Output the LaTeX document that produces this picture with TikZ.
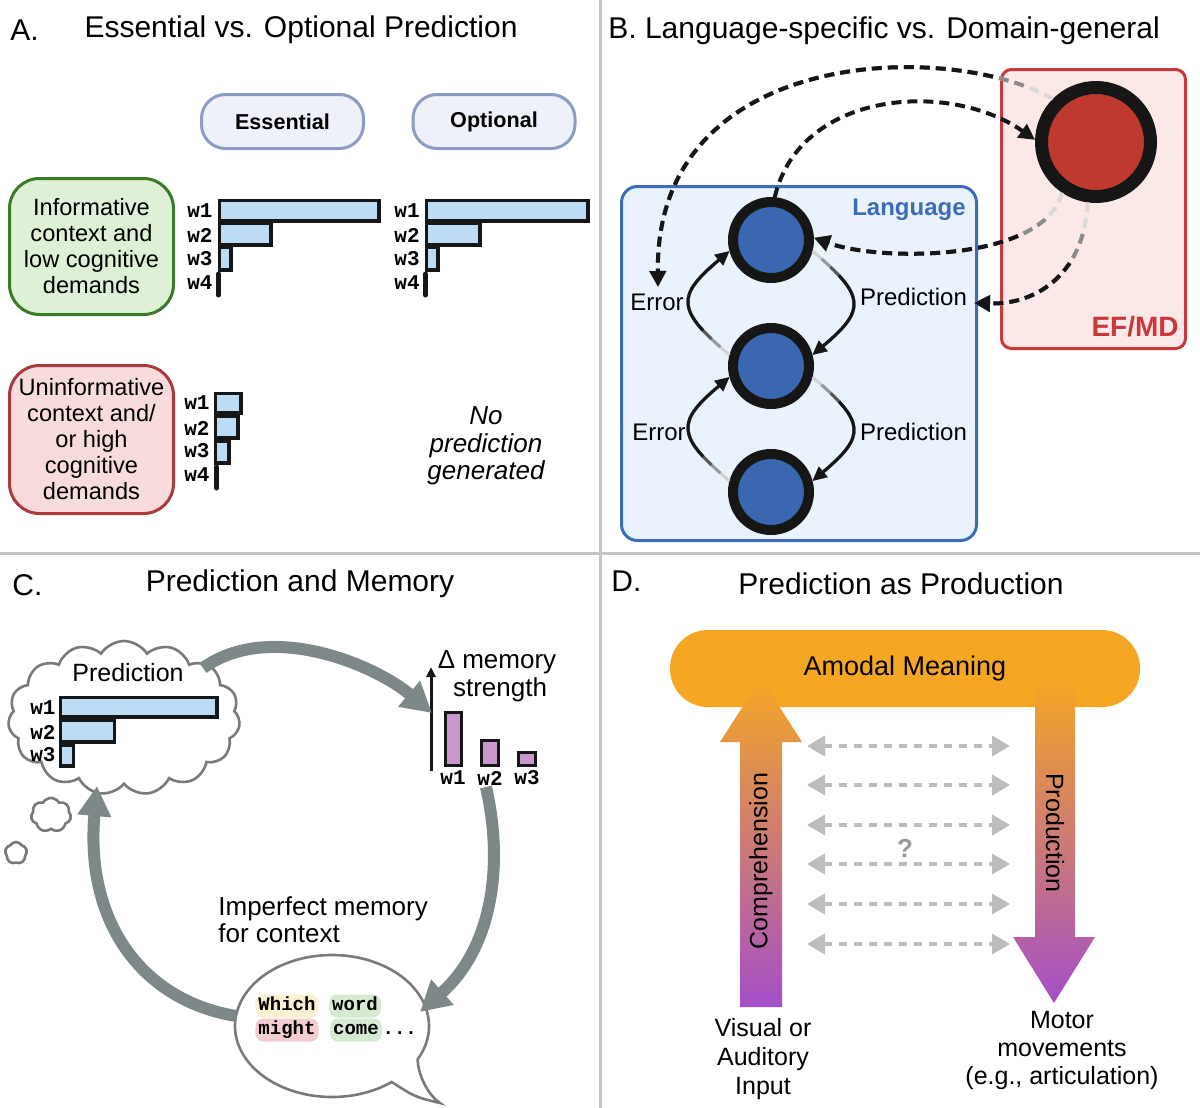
\documentclass[tikz,border=0pt]{standalone}
\usepackage{fontspec}
\setmainfont{Liberation Sans}
\setmonofont{Liberation Mono}
\usetikzlibrary{arrows.meta,shapes.symbols,calc}

\definecolor{divgray}{HTML}{C4C4C4}
\definecolor{essfill}{HTML}{EEF1FA}
\definecolor{essdraw}{HTML}{8D9BC5}
\definecolor{grnfill}{HTML}{DEF0D6}
\definecolor{grndraw}{HTML}{3B7A27}
\definecolor{rdfill}{HTML}{F8DCDC}
\definecolor{rddraw}{HTML}{A93B3E}
\definecolor{barblue}{HTML}{BCDCF5}
\definecolor{effill}{HTML}{FDE8E8}
\definecolor{efdraw}{HTML}{C9383A}
\definecolor{efcirc}{HTML}{C0392F}
\definecolor{langfill}{HTML}{EAF2FB}
\definecolor{langdraw}{HTML}{3C6DB6}
\definecolor{langcirc}{HTML}{3A67B0}
\definecolor{ringblack}{HTML}{161616}
\definecolor{arrgray}{HTML}{7F8888}
\definecolor{cloudgray}{HTML}{7A7A7A}
\definecolor{memfill}{HTML}{C898CD}
\definecolor{mbar}{HTML}{F5A623}
\definecolor{mpurple}{HTML}{A44FC8}
\definecolor{qgray}{HTML}{BDBDBD}
\definecolor{qmark}{HTML}{9A9A9A}
\definecolor{hlyel}{HTML}{FAF0D2}
\definecolor{hlgrn}{HTML}{D5EAD0}
\definecolor{hlred}{HTML}{F3CDD0}

\def\dashseq{}
\foreach \i in {1,...,50}{\xdef\dashseq{\dashseq on 5pt off 3pt}}
\edef\mkdashstyles{\noexpand\tikzset{
  dashA/.style={dash pattern=on 5pt off 3pt},
  dashB/.style={dash pattern=on 0pt off 16pt\dashseq},
  dashC/.style={dash pattern=on 0pt off 32pt\dashseq}}}
\mkdashstyles

\tikzset{
  divider/.style={draw=divgray, line width=1.5pt},
  ttl/.style={font=\fontsize{15}{18}\selectfont, inner sep=0pt},
  hdr/.style={draw=essdraw, fill=essfill, line width=1.5pt, rounded corners=12pt,
    minimum width=81pt, minimum height=27pt, inner sep=0pt,
    font=\bfseries\fontsize{10.8}{13}\selectfont},
  cond/.style={line width=1.5pt, rounded corners=15pt, align=center, inner sep=0pt,
    font=\fontsize{11.8}{13}\selectfont},
  barsty/.style={fill=barblue, draw=ringblack, line width=1.9pt},
  wl/.style={font=\ttfamily\bfseries\fontsize{10.5}{12}\selectfont, inner sep=0pt},
  lcirc/.style={circle, fill=langcirc, draw=ringblack, line width=5pt, minimum size=38pt, inner sep=0pt},
  solidarc/.style={line width=1.5pt, -{Triangle[length=7pt,width=6.5pt]}},
  dashblk/.style={line width=2pt, draw=ringblack, dashA, -{Triangle[length=8pt,width=8pt]}},
  lbl/.style={font=\fontsize{12}{14}\selectfont, inner sep=0pt},
  cloudsty/.style={cloud, cloud ignores aspect, draw=cloudgray, line width=1.3pt, fill=white, inner sep=0pt},
  bigarr/.style={draw=arrgray, line width=6pt, -{Triangle[length=15pt,width=16pt]}},
  memsty/.style={fill=memfill, draw=ringblack, line width=1.5pt},
  hl/.style={font=\ttfamily\bfseries\fontsize{9.5}{11}\selectfont, rounded corners=4pt, inner xsep=1.5pt,
    inner ysep=1.5pt, text height=6.5pt, text depth=2pt},
  qarr/.style={draw=qgray, line width=2pt, dash pattern=on 4pt off 3.5pt,
    {Triangle[length=9pt,width=10pt]}-{Triangle[length=9pt,width=10pt]}},
  body/.style={font=\fontsize{12.5}{14}\selectfont, inner sep=0pt}
}

\newcommand\fadearc[1]{%
  \draw[solidarc, draw=black!18] #1;
  \draw[solidarc, draw=black!40, dash pattern=on 0pt off 6pt on 500pt] #1;
  \draw[solidarc, draw=black!65, dash pattern=on 0pt off 12pt on 500pt] #1;
  \draw[solidarc, draw=ringblack, dash pattern=on 0pt off 18pt on 500pt] #1;}
\newcommand\fadedash[1]{%
  \draw[dashblk, draw=black!15, dashA] #1;
  \draw[dashblk, draw=black!45, dashB] #1;
  \draw[dashblk, draw=ringblack, dashC] #1;}
\newcommand\mybar[4]{\draw[barsty] (#1,#2) rectangle (#3,#4);}

\begin{document}
\begin{tikzpicture}[x=0.5pt,y=0.5pt]
\useasboundingbox (0,0) rectangle (1200,-1108);
\fill[white] (0,0) rectangle (1200,-1108);
\draw[divider] (600,0) -- (600,-1108);
\draw[divider] (0,-553) -- (1200,-553);

% ---------------- Panel A ----------------
\node[ttl, anchor=west] (atag) at (10,-30) {A.};
\node[ttl] (atitle) at (301,-30) {Essential vs. Optional Prediction};
\node[hdr] (ess) at (282.5,-121.5) {Essential};
\node[hdr] (opt) at (494,-121.5) {Optional};
\node[cond, fill=grnfill, draw=grndraw, minimum width=82pt, minimum height=68pt] (inf)
  at (91.5,-246.5) {Informative\\context and\\low cognitive\\demands};
\node[cond, fill=rdfill, draw=rddraw, minimum width=82pt, minimum height=74pt] (uninf)
  at (91.5,-439.5) {Uninformative\\context and/\\or high\\cognitive\\demands};

% essential bars
\mybar{219.5}{-200.5}{379}{-221}
\mybar{219.5}{-223.5}{271}{-245}
\mybar{219.5}{-247.5}{231}{-270}
\draw[line width=2.5pt, draw=ringblack, line cap=round] (218.5,-274) -- (218.5,-295);
\node[wl, anchor=east] (ea1) at (213,-211) {w1};
\node[wl, anchor=east] (ea2) at (213,-235) {w2};
\node[wl, anchor=east] (ea3) at (213,-259) {w3};
\node[wl, anchor=east] (ea4) at (213,-283) {w4};
% optional bars
\mybar{426.5}{-200.5}{588}{-221}
\mybar{426.5}{-223.5}{480}{-245}
\mybar{426.5}{-247.5}{438}{-270}
\draw[line width=2.5pt, draw=ringblack, line cap=round] (425.5,-274) -- (425.5,-295);
\node[wl, anchor=east] (oa1) at (420,-211) {w1};
\node[wl, anchor=east] (oa2) at (420,-235) {w2};
\node[wl, anchor=east] (oa3) at (420,-259) {w3};
\node[wl, anchor=east] (oa4) at (420,-283) {w4};
% uninformative bars
\mybar{215.5}{-393.5}{241}{-413}
\mybar{215.5}{-416.5}{238}{-438}
\mybar{215.5}{-441.5}{229}{-463}
\draw[line width=2.5pt, draw=ringblack, line cap=round] (216.5,-467) -- (216.5,-488);
\node[wl, anchor=east] (ua1) at (210,-403) {w1};
\node[wl, anchor=east] (ua2) at (210,-428) {w2};
\node[wl, anchor=east] (ua3) at (210,-451) {w3};
\node[wl, anchor=east] (ua4) at (210,-475) {w4};
\node[font=\itshape\fontsize{13}{13.8}\selectfont, align=center, inner sep=0pt] (nopred)
  at (486,-446) {No\\prediction\\generated};

% ---------------- Panel B ----------------
\node[ttl, anchor=west] (btitle) at (608,-31) {B. Language-specific vs. Domain-general};
\node[draw=efdraw, fill=effill, line width=1.5pt, rounded corners=5pt, minimum width=92pt,
  minimum height=139.5pt, inner sep=0pt] (efbox) at (1093.5,-209) {};
\node[font=\bfseries\fontsize{14}{16}\selectfont, text=efdraw, anchor=east, inner sep=0pt]
  (eflabel) at (1179,-327) {EF/MD};
\node[draw=langdraw, fill=langfill, line width=1.5pt, rounded corners=8pt, minimum width=177.5pt,
  minimum height=177pt, inner sep=0pt] (langbox) at (799,-363.5) {};
\node[font=\bfseries\fontsize{12}{14}\selectfont, text=langdraw, anchor=east, inner sep=0pt]
  (langlabel) at (966,-210) {Language};
\node[circle, fill=efcirc, draw=ringblack, line width=6.5pt, minimum size=54.5pt, inner sep=0pt]
  (ef) at (1096,-142) {};
\node[lcirc] (t) at (771,-240) {};
\node[lcirc] (m) at (771,-366) {};
\node[lcirc] (b) at (771,-492) {};

\node[lbl] (err1) at (657,-302) {Error};
\node[lbl] (err2) at (659,-432) {Error};
\node[lbl] (pr1) at (913.5,-297) {Prediction};
\node[lbl] (pr2) at (913.5,-432) {Prediction};

\fadearc{(m.165) .. controls (675.9,-309.9) and (675.9,-296.1) .. (t.195)}
\fadearc{(b.165) .. controls (675.9,-435.9) and (675.9,-422.1) .. (m.195)}
\fadearc{(t.-15) .. controls (866.1,-296.1) and (866.1,-309.9) .. (m.15)}
\fadearc{(m.-15) .. controls (866.1,-422.1) and (866.1,-435.9) .. (b.15)}

\coordinate (errtip) at (658,-287);
\coordinate (prtip) at (974,-303);
\fadedash{(ef.135) .. controls (950,-40) and (655,-45) .. (errtip)}
\draw[dashblk] (t.85) .. controls (800,-90) and (950,-80) .. (ef.178);
\fadedash{(ef.236) .. controls (1045,-262) and (880,-262) .. (t.3)}
\fadedash{(ef.262) .. controls (1085,-270) and (1040,-305) .. (prtip)}

% ---------------- Panel C ----------------
\node[ttl, anchor=west] (ctag) at (12,-585) {C.};
\node[ttl] (ctitle) at (300,-584) {Prediction and Memory};

\node[cloudsty, cloud puffs=15, cloud puff arc=115, minimum width=116pt, minimum height=77pt]
  (cloud) at (124,-718) {};
\node[cloudsty, cloud puffs=7, cloud puff arc=120, minimum width=20pt, minimum height=17pt]
  (sc1) at (51,-815) {};
\node[cloudsty, cloud puffs=5, cloud puff arc=120, minimum width=11pt, minimum height=11pt]
  (sc2) at (16,-853) {};
\node[font=\fontsize{12.5}{14}\selectfont, inner sep=0pt] (predlbl) at (128,-673) {Prediction};
\mybar{60.5}{-697.5}{217}{-717}
\mybar{60.5}{-720.5}{114.5}{-742}
\mybar{60.5}{-745.5}{73.5}{-766}
\node[wl, anchor=east] (ca1) at (56,-708) {w1};
\node[wl, anchor=east] (ca2) at (56,-732) {w2};
\node[wl, anchor=east] (ca3) at (56,-755) {w3};

% memory chart
\coordinate (axb) at (431,-771);
\coordinate (axt) at (431,-667);
\draw[line width=1.5pt, draw=ringblack, -{Triangle[length=5pt,width=4.5pt]}] (axb) -- (axt);
\draw[memsty] (445,-712) rectangle (461,-765);
\draw[memsty] (481,-740) rectangle (498,-765);
\draw[memsty] (518,-752) rectangle (535,-765);
\node[wl] (ma1) at (453,-778) {w1};
\node[wl] (ma2) at (490,-778) {w2};
\node[wl] (ma3) at (527,-778) {w3};
\node[font=\fontsize{13}{14}\selectfont, inner sep=0pt] (dmem) at (497,-662) {Δ memory};
\node[font=\fontsize{13}{14}\selectfont, inner sep=0pt] (dstr) at (500,-690) {strength};

\node[font=\fontsize{13}{13.5}\selectfont, align=left, anchor=west, inner sep=0pt] (imperf)
  at (218,-920) {Imperfect memory\\for context};

% speech bubble
\draw[draw=cloudgray, line width=1.3pt, fill=white]
  ({332+97*cos(-28)},{-1026+71*sin(-28)})
  arc[start angle=-28, end angle=308, x radius=97, y radius=71]
  .. controls (415,-1097) .. (440,-1103)
  .. controls (428,-1095) and (418,-1075) .. ({332+97*cos(-28)},{-1026+71*sin(-28)}) -- cycle;
\node[hl, fill=hlyel] (wWhich) at (287,-1006) {Which};
\node[hl, fill=hlgrn] (wWord) at (355,-1006) {word};
\node[hl, fill=hlred] (wMight) at (287,-1030) {might};
\node[hl, fill=hlgrn] (wCome) at (356,-1030) {come};
\node[font=\ttfamily\bfseries\fontsize{9.5}{11}\selectfont, anchor=base west, inner sep=0pt] (dots)
  at (wCome.base east) {...};

% big gray arrows
\coordinate (c1s) at (203,-668);
\coordinate (memtip) at (432,-713);
\coordinate (c2s) at (486,-787);
\coordinate (c2e) at (420,-1012);
\coordinate (c3s) at (236,-1016);
\coordinate (c3e) at (97,-786);
\draw[bigarr] (c1s) .. controls (270,-620) and (375,-665) .. (memtip);
\draw[bigarr] (c2s) .. controls (505,-870) and (490,-950) .. (c2e);
\draw[bigarr] (c3s) .. controls (140,-1000) and (85,-920) .. (c3e);

% ---------------- Panel D ----------------
\node[ttl, anchor=west] (dtag) at (611,-581) {D.};
\node[ttl] (dtitle) at (901,-584) {Prediction as Production};
\node[fill=mbar, rounded corners=19pt, minimum width=235pt, minimum height=38.5pt, inner sep=0pt,
  font=\fontsize{13.5}{15}\selectfont] (meaning) at (905,-668.5) {Amodal Meaning};
\shade[top color=mbar, bottom color=mpurple] (740,-1007) -- (782,-1007) -- (782,-742) -- (802,-742)
  -- (761,-678) -- (720,-742) -- (740,-742) -- cycle;
\shade[top color=mbar, bottom color=mpurple] (1035,-680) -- (1075,-680) -- (1075,-937) -- (1095,-937)
  -- (1054,-1003) -- (1013,-937) -- (1035,-937) -- cycle;
\node[body, rotate=90] (comp) at (761,-861) {Comprehension};
\node[body, rotate=-90] (prod) at (1055,-833) {Production};
\foreach \yy [count=\i] in {746,785,825,864,904,944} {
  \coordinate (ql\i) at (807,-\yy);
  \coordinate (qr\i) at (1010,-\yy);
  \draw[qarr] (ql\i) -- (qr\i);
}
\node[font=\bfseries\fontsize{13}{14}\selectfont, text=qmark, inner sep=0pt] (qm) at (905,-848) {?};
\node[font=\fontsize{12.5}{14.5}\selectfont, align=center, inner sep=0pt] (input)
  at (763,-1059) {Visual or\\Auditory\\Input};
\node[font=\fontsize{12.5}{14}\selectfont, align=center, inner sep=0pt] (motor)
  at (1062,-1050) {Motor\\movements\\(e.g., articulation)};
\end{tikzpicture}
\end{document}
